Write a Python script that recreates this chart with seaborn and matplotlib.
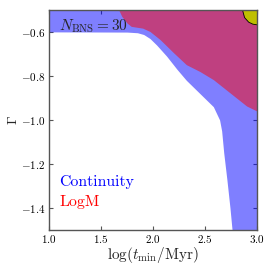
import numpy as np
import matplotlib
matplotlib.use("Agg")
import matplotlib.pyplot as plt
import seaborn as sns

# boundary of the Continuity region (white area lies left/below of it)
cont_y = [-1.50, -1.40, -1.27, -1.15, -1.05, -1.00, -0.94, -0.88, -0.82, -0.77, -0.71, -0.66, -0.63, -0.612, -0.604, -0.601, -0.600, -0.50]
cont_x = [2.76, 2.74, 2.71, 2.68, 2.66, 2.64, 2.58, 2.45, 2.32, 2.23, 2.13, 2.035, 1.97, 1.91, 1.85, 1.75, 1.00, 1.00]

# lower boundary of the LogM region
logm_x = [1.67, 1.70, 1.75, 1.79, 1.90, 1.97, 2.07, 2.20, 2.32, 2.45, 2.58, 2.74, 2.90, 3.00]
logm_y = [-0.50, -0.53, -0.56, -0.575, -0.583, -0.598, -0.636, -0.696, -0.749, -0.78, -0.817, -0.877, -0.937, -0.96]

# small corner region
corner_x = [2.86, 2.88, 2.92, 2.96, 3.00]
corner_y = [-0.50, -0.535, -0.556, -0.565, -0.568]

sns.set_style("ticks")
plt.rcParams.update({
    "font.family": ["cmr10", "DejaVu Serif"],
    "mathtext.fontset": "cm",
    "axes.formatter.use_mathtext": True,
    "axes.unicode_minus": True,
    "xtick.direction": "in",
    "ytick.direction": "in",
    "xtick.top": True,
    "ytick.right": True,
    "axes.edgecolor": "#555555",
    "axes.linewidth": 1.0,
    "xtick.color": "#555555",
    "ytick.color": "#555555",
    "xtick.labelcolor": "black",
    "ytick.labelcolor": "black",
})

fig = plt.figure(figsize=(2.74, 2.74), dpi=100)
ax = fig.add_axes([0.179, 0.161, 0.759, 0.803])

ax.fill_betweenx(cont_y, cont_x, 3.0, color="blue", alpha=0.5, lw=0)
ax.fill_between(logm_x, logm_y, -0.5, color="#bf4080", lw=0)
ax.fill_between(corner_x, corner_y, -0.5, color="#bfbf00", lw=0)
sns.lineplot(x=corner_x, y=corner_y, color="black", lw=0.6, ax=ax, sort=False)

ax.set_xlim(1.0, 3.0)
ax.set_ylim(-1.5, -0.5)
ax.set_xticks([1.0, 1.5, 2.0, 2.5, 3.0])
ax.set_yticks([-0.6, -0.8, -1.0, -1.2, -1.4])
ax.tick_params(length=3, width=0.8, labelsize=8, pad=2.5)

ax.set_xlabel(r"$\log(t_{\rm min}/{\rm Myr})$", fontsize=11, labelpad=0)
ax.set_ylabel(r"$\Gamma$", fontsize=10, labelpad=1)

ax.text(1.1, -0.576, r"$N_{\rm BNS} = 30$", fontsize=11, va="center")
ax.text(1.1, -1.281, "Continuity", color="blue", fontsize=11.4, va="center")
ax.text(1.1, -1.375, "LogM", color="red", fontsize=11.4, va="center")

fig.savefig("out.png", dpi=100)
